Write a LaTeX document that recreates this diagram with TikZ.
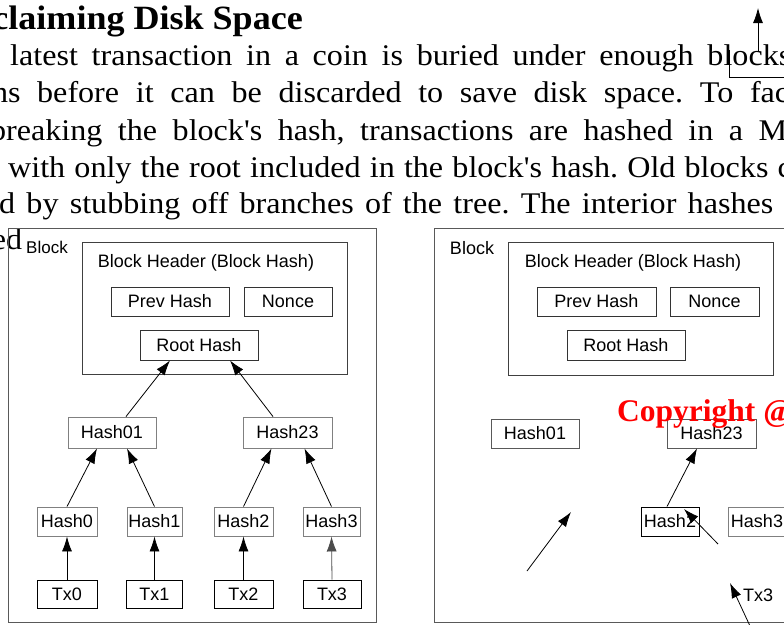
\documentclass[tikz,border=0pt]{standalone}
\usepackage{fontspec}
\setmainfont{Liberation Serif}
\newfontfamily\diagfont{Liberation Sans}
\usetikzlibrary{arrows.meta,calc}
\newcommand\bodyfnt{\fontsize{30}{35}\selectfont}
\newcommand\aps{\textquotesingle}
% justified line: width in final (scaled) pt, horizontal stretch 1.07
\newcommand\jline[2]{\scalebox{1.07}[1]{\makebox[\dimexpr #1pt*100/107\relax][s]{#2}}}
\frenchspacing
\begin{document}
\frenchspacing
\begin{tikzpicture}[x=1pt,y=-1pt,
  txt/.style={anchor=base west,inner sep=0,font=\bodyfnt\frenchspacing},
  box/.style={draw,inner sep=0,font=\diagfont\fontsize{18}{20}\selectfont,line width=0.9pt},
  lbl/.style={inner sep=0,font=\diagfont\fontsize{18}{20}\selectfont},
  frame/.style={draw=black!65,line width=1pt,inner sep=0,anchor=north west},
  arr/.style={-{Latex[length=15pt,width=10pt]},line width=0.8pt}]
\useasboundingbox (0,0) rectangle (784,624);
\clip (0,0) rectangle (784,624);
\fill[white] (0,0) rectangle (784,624);

% ---- text ----
\node[anchor=base east,inner sep=0,font=\bfseries\fontsize{34}{40}\selectfont] (title) at (303,29) {\scalebox{1.06}[1]{Reclaiming Disk Space}};
\node[txt] (l1) at (10,65) {\jline{781}{latest transaction in a coin is buried under enough blocks}};
\node[txt] (l2) at (-133,102) {\jline{995}{transactions before it can be discarded to save disk space. To facilitate}};
\node[txt] (l3) at (-10,140) {\jline{861}{breaking the block\aps s hash, transactions are hashed in a Merkle}};
\node[txt] (l4) at (8,177) {\jline{814}{with only the root included in the block\aps s hash. Old blocks can}};
\node[txt] (l5) at (-124,213) {\jline{897}{compacted by stubbing off branches of the tree. The interior hashes}};
\node[txt] (l6) at (-56.5,249) {\scalebox{1.07}[1]{stored}};

% top-right stray marks
\coordinate (ta) at (758,52);
\coordinate (tb) at (758,8);
\draw[arr] (ta) -- (tb);
\coordinate (tc) at (729,50);
\coordinate (td) at (729,77);
\coordinate (te) at (790,77);
\draw[line width=0.8pt] (tc) -- (td) -- (te);

% ---- left block ----
\node[frame,minimum width=368,minimum height=394] (blockL) at (8,228) {};
\node[lbl,font=\diagfont\fontsize{17}{20}\selectfont] (blockLlbl) at (47,247) {Block};
\node[box,draw=black!75,minimum width=265,minimum height=132] (hdrL) at (214.5,308) {};
\node[lbl] (hdrLlbl) at (206,263) {Block Header (Block Hash)};
\node[box,draw=black!80,minimum width=118,minimum height=29] (prevL) at (170,301.5) {Prev Hash};
\node[box,draw=black!80,minimum width=88,minimum height=29] (nonceL) at (288,301.5) {Nonce};
\node[box,draw=black!80,minimum width=118,minimum height=30] (rootL) at (199,345) {Root Hash};
\node[box,draw=black!50,minimum width=88,minimum height=31] (h01L) at (112,432.5) {Hash01};
\node[box,draw=black!50,minimum width=89,minimum height=31] (h23L) at (287.5,432.5) {Hash23};
\node[box,draw=black!50,minimum width=60,minimum height=29] (h0L) at (67,521.5) {Hash0};
\node[box,draw=black!50,minimum width=55,minimum height=29] (h1L) at (154.5,521.5) {Hash1};
\node[box,draw=black!50,minimum width=59,minimum height=29] (h2L) at (243.5,521.5) {Hash2};
\node[box,draw=black!50,minimum width=57,minimum height=29] (h3L) at (331.5,521.5) {Hash3};
\node[box,minimum width=60,minimum height=28] (tx0L) at (67,594) {Tx0};
\node[box,minimum width=56,minimum height=28] (tx1L) at (154.5,594) {Tx1};
\node[box,minimum width=59,minimum height=28] (tx2L) at (243.5,594) {Tx2};
\node[box,minimum width=58,minimum height=28] (tx3L) at (332,594) {Tx3};
\draw[arr] (tx0L.north) -- (h0L.south);
\draw[arr] (tx1L.north) -- (h1L.south);
\draw[arr] (tx2L.north) -- (h2L.south);
\draw[arr,draw=black!70] (tx3L.north) -- (h3L.south);
\draw[arr] (h0L.north) -- ($(h01L.south)+(-15,0)$);
\draw[arr] (h1L.north) -- ($(h01L.south)+(15,0)$);
\draw[arr] (h2L.north) -- ($(h23L.south)+(-16,0)$);
\draw[arr] (h3L.north) -- ($(h23L.south)+(17,0)$);
\draw[arr] ($(h01L.north)+(14,0)$) -- ($(rootL.south)+(-29,0)$);
\draw[arr] ($(h23L.north)+(-14.5,0)$) -- ($(rootL.south)+(31,0)$);

% ---- right block ----
\node[frame,minimum width=380,minimum height=394] (blockR) at (434,228) {};
\node[lbl] (blockRlbl) at (472,248) {Block};
\node[box,draw=black!75,minimum width=265,minimum height=133] (hdrR) at (640.5,308.5) {};
\node[lbl] (hdrRlbl) at (633,263) {Block Header (Block Hash)};
\node[box,draw=black!80,minimum width=119,minimum height=29] (prevR) at (596.5,301.5) {Prev Hash};
\node[box,draw=black!80,minimum width=89,minimum height=29] (nonceR) at (714.5,301.5) {Nonce};
\node[box,draw=black!80,minimum width=118,minimum height=30] (rootR) at (626,345) {Root Hash};
\node[box,draw=black!65,minimum width=88,minimum height=29] (h01R) at (535,433.5) {Hash01};
\node[box,draw=black!65,minimum width=89,minimum height=29] (h23R) at (711.5,433.5) {Hash23};
\node[box,minimum width=58,minimum height=29] (h2R) at (670,521.5) {Hash2};
\node[box,draw=black!50,minimum width=58,minimum height=29] (h3R) at (757,521.5) {Hash3};
\node[lbl] (tx3R) at (758,595) {Tx3};
\draw[arr] ($(h2R.north)+(-3,0)$) -- ($(h23R.south)+(-14.5,0)$);
\coordinate (a1) at (718,544);
\coordinate (a2) at (684,509);
\draw[arr] (a1) -- (a2);
\coordinate (b1) at (527,571);
\coordinate (b2) at (571,512);
\draw[arr] (b1) -- (b2);
\coordinate (c1) at (750,626);
\coordinate (c2) at (730,583);
\draw[arr] (c1) -- (c2);
\node[anchor=base west,inner sep=0,text=red,font=\bfseries\fontsize{31.5}{36}\selectfont] (copy) at (617,421) {Copyright @};
\end{tikzpicture}
\end{document}
